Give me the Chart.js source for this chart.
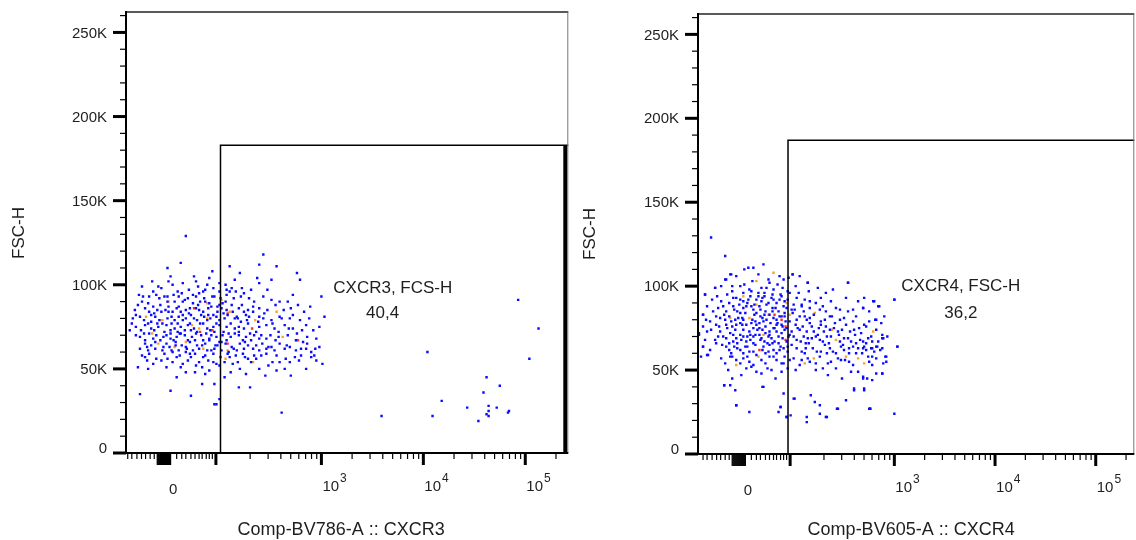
<!DOCTYPE html>
<html>
<head>
<meta charset="utf-8">
<script src="https://cdn.jsdelivr.net/npm/chart.js@4.4.1/dist/chart.umd.min.js"></script>
<style>
  html, body { margin: 0; padding: 0; background: #fff; }
  #wrap { position: relative; width: 1136px; height: 540px; overflow: hidden; }
  canvas { position: absolute; top: 0; }
  #cxcr3 { left: 0; }
  #cxcr4 { left: 570px; }
</style>
</head>
<body>
<div id="wrap">
  <canvas id="cxcr3" width="570" height="540"></canvas>
  <canvas id="cxcr4" width="566" height="540"></canvas>
</div>
<script>
// x values are in biexponential display units (decades: 3 = 10^3), y in thousands (FSC-H)
const yMajor = [0, 50, 100, 150, 200, 250];
const yLabels = ['0', '50K', '100K', '150K', '200K', '250K'];
const yMinor = [10, 20, 30, 40, 60, 70, 80, 90, 110, 120, 130, 140, 160, 170, 180, 190, 210, 220, 230, 240, 260];

const xDecades = [3, 4, 5];
const xDecadeLabels = ['3', '4', '5'];
const xZeroLabel = 1.545;
const xMajorExtra = [1.965];
const xLinearTicks = [1.10, 1.14, 1.19, 1.235, 1.275, 1.32, 1.36, 1.58, 1.63, 1.67, 1.72, 1.76, 1.80, 1.83, 1.87, 1.90, 1.93];
const xZeroBlock = [1.39, 1.40, 1.41, 1.42, 1.43, 1.44, 1.45, 1.46, 1.47, 1.48, 1.49, 1.50, 1.51, 1.52];
const xLogMinor = [200, 300, 400, 500, 600, 700, 800, 900, 2000, 3000, 4000, 5000, 6000, 7000, 8000, 9000,
  20000, 30000, 40000, 50000, 60000, 70000, 80000, 90000, 200000];

const cxcr3Blue = [[1.67,129],[1.62,113],[2.43,118],[2.56,111],[2.39,112],[2.10,111],[1.49,110],[1.93,108],[2.20,107],[2.76,107],
[2.79,103],[1.34,102],[1.52,105],[1.75,105],[1.90,104],[2.15,103],[2.37,104],[2.51,103],[1.77,102],[1.64,101],[1.50,102],[2.39,101],
[2.06,100],[1.35,96],[1.43,98],[1.59,96],[1.70,97],[1.80,95],[1.86,97],[1.94,98],[2.00,96],[2.10,96],[2.16,96],[2.24,95],[2.31,97],
[3.00,93],[1.25,93],[1.24,90],[1.41,92],[1.49,90],[1.56,90],[1.64,90],[1.74,89],[1.81,90],[1.90,89],[2.01,92],[2.03,89],[2.06,90],
[2.14,92],[2.34,90],[2.51,91],[2.59,90],[2.67,90],[2.89,87],[1.17,85],[1.27,86],[1.35,87],[1.43,84],[1.50,87],[1.58,86],[1.67,85],
[1.77,86],[1.84,84],[1.92,87],[2.07,85],[2.19,86],[2.28,85],[2.39,86],[2.63,85],[2.83,84],[3.03,81],[1.15,80],[1.22,81],[1.37,81],
[1.53,81],[1.60,81],[1.67,80],[1.72,82],[1.78,79],[1.85,81],[1.91,80],[1.97,81],[2.05,80],[2.15,80],[2.21,78],[2.29,81],[2.43,80],
[2.79,79],[1.12,73],[1.18,75],[1.27,76],[1.33,74],[1.40,75],[1.48,76],[1.56,74],[1.62,75],[1.69,76],[1.75,74],[1.88,74],[1.94,75],
[2.00,76],[2.07,75],[2.15,74],[2.24,74],[2.39,75],[2.54,74],[2.64,76],[2.92,73],[1.22,69],[1.31,71],[1.38,70],[1.45,69],[1.52,71],
[1.58,69],[1.66,70],[1.73,69],[1.82,70],[1.90,68],[1.97,69],[2.03,70],[2.11,69],[2.19,70],[2.26,69],[2.34,70],[2.46,68],[2.55,67],
[2.75,67],[2.86,69],[1.27,65],[1.33,64],[1.51,63],[1.57,64],[1.63,64],[1.71,66],[1.78,64],[1.86,65],[1.90,67],[1.98,64],[2.06,65],
[2.12,63],[2.20,65],[2.28,64],[2.33,62],[2.42,65],[2.51,63],[2.59,65],[2.69,63],[2.80,62],[2.98,63],[1.24,58],[1.31,59],[1.38,56],
[1.46,59],[1.53,61],[1.61,58],[1.67,60],[1.76,59],[1.84,57],[1.94,59],[2.01,57],[2.08,59],[2.16,58],[2.25,57],[2.34,58],[2.46,59],
[2.56,58],[2.65,56],[2.74,57],[2.90,57],[1.29,55],[1.43,55],[1.54,54],[1.69,55],[1.77,52],[1.89,55],[1.97,53],[2.05,54],[2.13,53],
[2.31,54],[2.39,50],[2.48,52],[2.59,54],[2.64,50],[2.70,46],[3.01,53],[1.20,51],[1.58,45],[1.67,48],[1.83,51],[2.00,52],[1.90,49],
[2.20,50],[2.45,46],[2.05,45],[1.22,35],[1.52,37],[1.72,34],[1.83,41],[1.95,41],[2.19,39],[2.30,39],[2.00,32],[1.95,29],[1.97,29],
[2.61,24],[2.86,65],[2.94,62],[2.90,60],[2.80,58],[2.95,55],
[1.24,99],[1.40,99],[1.54,100],[1.79,99],[1.88,100],[2.00,101],[2.12,98],[2.22,98],[2.47,97],
[1.21,94],[1.31,93],[1.38,94],[1.46,93],[1.60,93],[1.69,92],[1.77,93],[1.85,92],[1.95,93],[2.07,94],[2.21,93],[2.29,92],[2.43,93],[2.72,94],
[1.20,88],[1.31,84],[1.39,85],[1.47,85],[1.54,84],[1.62,84],[1.71,86],[1.80,85],[1.89,86],[1.98,84],[2.02,86],[2.13,84],[2.24,84],
[2.33,84],[2.47,85],[2.70,86],[2.77,88],
[1.18,82],[1.26,79],[1.33,82],[1.41,79],[1.49,80],[1.56,79],[1.64,82],[1.75,80],[1.82,82],[1.88,79],[1.94,82],[2.00,79],[2.08,82],
[2.18,80],[2.26,82],[2.39,81],[2.51,79],[2.59,81],[2.69,80],[2.88,80],
[1.14,77],[1.23,73],[1.30,77],[1.36,73],[1.44,77],[1.52,73],[1.59,77],[1.66,73],[1.71,77],[1.78,72],[1.84,77],[1.91,73],[1.97,77],
[2.04,72],[2.11,77],[2.19,72],[2.28,77],[2.36,72],[2.46,76],[2.58,72],[2.72,74],[2.85,76],[2.98,75],
[1.18,70],[1.27,67],[1.35,68],[1.42,67],[1.48,70],[1.55,67],[1.61,71],[1.69,67],[1.77,71],[1.84,67],[1.92,70],[2.00,66],[2.07,67],
[2.15,71],[2.23,67],[2.31,67],[2.39,68],[2.50,70],[2.67,70],[2.82,66],[2.95,68],
[1.22,62],[1.30,61],[1.37,62],[1.44,61],[1.48,65],[1.54,60],[1.60,61],[1.67,63],[1.74,61],[1.80,62],[1.88,61],[1.95,62],[2.02,61],
[2.09,60],[2.17,61],[2.24,62],[2.39,61],[2.46,62],[2.54,61],[2.64,62],[2.75,61],[2.85,62],
[1.27,57],[1.35,53],[1.49,56],[1.58,57],[1.64,53],[1.72,57],[1.80,54],[1.86,58],[1.94,54],[2.10,57],[2.18,54],[2.28,56],[2.36,56],
[2.52,54],[2.69,54],[2.78,55],[2.93,58],
[1.30,50],[1.48,51],[1.62,51],[1.76,48],[1.86,47],[2.11,48],[2.26,47],[2.56,49],[2.85,50],
[1.30,89],[1.36,83],[1.39,77],[1.42,88],[1.46,72],[1.50,84],[1.53,77],[1.55,94],[1.57,66],[1.60,87],[1.62,71],[1.64,79],[1.66,91],
[1.68,62],[1.70,83],[1.72,73],[1.74,94],[1.76,67],[1.79,88],[1.81,77],[1.83,64],[1.86,90],[1.87,71],[1.89,82],[1.92,61],[1.93,93],
[1.95,72],[1.98,87],[2.02,66],[2.04,83],[2.07,97],[2.09,71],[2.12,88],[2.14,62],[2.17,81],[2.19,75],[2.22,88],[2.25,66],[2.27,79],
[2.30,71],[2.33,87],[2.36,64],[2.38,78],[2.41,70],[2.44,83],[2.48,63],[2.52,77],[2.55,88],[2.58,69],[2.61,80],[2.66,64],[2.68,74],
[2.72,82],[2.76,71],[2.81,73],[1.26,71],[1.29,63],[1.33,78],[1.37,66],[1.45,63],[1.49,93],[1.52,68],[1.59,72],[1.63,95],[1.71,59],
[1.84,96],[1.96,64],[2.00,88],[2.23,59],[2.41,58],
[4.04,60],[4.93,91],[5.13,74],[5.04,56],[4.62,45],[4.75,40],[4.59,36],[4.18,31],[4.43,27],[4.64,28],[4.72,27],[4.64,25],[4.62,23],
[4.64,22],[4.84,25],[4.83,24],[4.54,19],[3.59,22],[4.09,22]];
const cxcr3Orange = [[1.50,90],[1.42,79],[1.34,71],[1.73,76],[1.80,74],[1.88,80],[2.02,91],[2.10,84],[2.06,56],[2.56,84],[2.62,69],
[2.35,79],[1.28,81],[1.44,79],[1.67,66],[1.56,63],[1.40,65],[1.84,62],[1.88,89],[2.08,61],[2.33,54]];
const cxcr3Red = [[1.75,86],[1.93,73],[2.32,74],[2.08,65],[2.77,67],[1.81,72],[2.08,83]];

const cxcr4Blue = [[1.18,129],[1.32,118],[1.37,107],[1.51,110],[1.60,111],[1.70,113],[1.55,111],[1.99,107],[1.90,104],[1.95,105],
[1.32,104],[1.22,99],[1.39,100],[1.51,101],[1.59,103],[1.68,99],[1.76,102],[1.84,101],[1.94,97],[2.14,102],[2.54,102],[1.39,97],
[1.50,96],[1.58,97],[1.65,94],[1.71,96],[1.79,95],[1.86,92],[1.96,96],[2.05,96],[2.15,97],[2.32,96],[1.12,95],[1.19,92],[1.28,91],
[1.40,93],[1.47,92],[1.54,90],[1.61,89],[1.68,91],[1.75,90],[1.83,90],[1.91,91],[2.00,89],[2.08,89],[2.16,91],[2.22,90],[2.29,88],
[2.46,86],[2.64,91],[2.80,91],[2.85,88],[3.00,92],[1.10,83],[1.20,85],[1.27,81],[1.36,82],[1.44,85],[1.50,87],[1.63,84],[1.69,81],
[1.76,83],[1.83,80],[1.91,82],[1.99,84],[2.06,82],[2.13,80],[2.20,83],[2.27,79],[2.36,82],[2.46,80],[2.54,85],[2.69,87],[1.17,79],
[1.23,77],[1.32,80],[1.39,76],[1.47,78],[1.53,77],[1.60,75],[1.66,78],[1.72,76],[1.80,75],[1.88,77],[1.93,75],[2.02,77],[2.09,76],
[2.16,78],[2.25,75],[2.32,76],[2.40,75],[2.48,74],[2.59,79],[2.65,75],[2.75,79],[1.06,71],[1.14,73],[1.22,68],[1.30,70],[1.37,72],
[1.43,69],[1.50,70],[1.57,68],[1.62,71],[1.68,69],[1.75,70],[1.81,67],[1.89,69],[1.96,71],[2.03,68],[2.10,70],[2.18,69],[2.26,68],
[2.33,70],[2.50,69],[2.57,67],[2.66,68],[2.74,69],[2.88,69],[1.10,64],[1.15,59],[1.29,65],[1.36,62],[1.41,64],[1.47,62],[1.54,64],
[1.60,61],[1.72,60],[1.80,62],[1.87,64],[1.94,61],[2.03,63],[2.11,60],[2.19,63],[2.27,61],[2.36,63],[2.42,60],[2.50,62],[2.59,64],
[2.68,60],[2.77,63],[2.83,64],[2.92,58],[3.03,64],[1.28,57],[1.37,58],[1.43,56],[1.50,57],[1.56,55],[1.72,54],[1.80,58],[1.88,54],
[1.96,56],[2.06,53],[2.14,57],[2.22,54],[2.29,51],[2.37,55],[2.44,57],[2.51,56],[2.59,53],[2.78,58],[2.88,48],[1.53,51],[1.63,49],
[1.74,51],[1.82,45],[1.90,54],[1.94,51],[2.34,47],[2.42,51],[2.57,49],[2.60,38],[2.69,46],[2.78,44],[1.31,41],[1.37,41],[1.42,38],
[1.69,40],[1.90,36],[2.01,33],[2.17,35],[2.21,31],[1.43,29],[1.56,25],[1.85,25],[1.87,28],[1.97,23],[2.13,22],[2.26,24],[2.32,22],
[2.44,27],[2.52,32],[2.75,27],[3.00,24],[1.93,22],
[1.06,72],[1.10,64],[1.08,58],[1.14,59],[1.12,95],[1.10,83],[1.22,99],[1.31,41],[1.39,45],[1.43,29],[1.70,40],[1.87,28],[1.93,22],
[2.00,33],[2.13,19],[2.26,29],[2.33,22],[2.43,27],[2.60,39],[2.70,39],[2.69,45],[2.76,27],[2.88,48],[3.03,64],[3.00,92],[2.54,102],
[2.14,102],[1.99,107],[1.38,107],[1.33,104],
[2.79,91],[2.84,88],[2.69,87],[2.81,80],[2.72,76],[2.88,71],[2.89,69],[2.82,64],[2.78,63],[2.69,63],[2.86,62],[2.74,58],[2.91,58],
[2.78,53],[2.89,54],[2.73,45],[2.70,38],[2.76,27],
[1.43,106],[1.65,107],[1.75,104],[1.86,106],[2.06,106],
[1.28,100],[1.47,100],[1.56,98],[1.73,99],[1.80,98],[1.89,99],[2.02,100],[2.24,99],[2.39,98],
[1.24,94],[1.34,95],[1.43,93],[1.50,91],[1.57,94],[1.63,92],[1.71,94],[1.80,92],[1.88,94],[1.94,92],[2.03,93],[2.11,92],[2.27,93],
[2.37,91],[2.52,93],[2.70,93],
[1.14,88],[1.25,87],[1.33,85],[1.40,88],[1.47,84],[1.53,88],[1.60,86],[1.66,88],[1.72,85],[1.79,87],[1.85,85],[1.93,87],[2.01,86],
[2.10,85],[2.16,87],[2.26,86],[2.32,85],[2.42,87],[2.59,86],[2.75,85],
[1.13,80],[1.23,82],[1.31,83],[1.42,80],[1.49,81],[1.59,80],[1.67,82],[1.73,80],[1.80,81],[1.88,82],[1.96,79],[2.03,80],[2.11,82],
[2.16,81],[2.31,80],[2.38,82],[2.50,81],[2.62,82],[2.82,80],[2.90,82],
[1.10,76],[1.18,74],[1.27,73],[1.34,75],[1.43,77],[1.50,74],[1.56,73],[1.63,77],[1.69,74],[1.76,73],[1.83,77],[1.91,74],[1.98,73],
[2.06,74],[2.13,73],[2.20,73],[2.27,77],[2.36,74],[2.44,73],[2.52,77],[2.60,74],[2.70,77],[2.82,74],[2.87,78],
[1.12,68],[1.25,70],[1.33,69],[1.40,67],[1.47,71],[1.53,67],[1.60,70],[1.66,71],[1.71,67],[1.78,69],[1.85,70],[1.93,67],[2.00,70],
[2.07,67],[2.14,69],[2.22,70],[2.29,67],[2.37,70],[2.46,67],[2.54,69],[2.61,71],[2.69,67],[2.77,70],[2.84,67],[2.93,70],
[1.17,62],[1.23,66],[1.33,64],[1.38,60],[1.44,66],[1.50,60],[1.56,61],[1.62,65],[1.69,62],[1.76,65],[1.83,60],[1.90,63],[1.98,65],
[2.08,61],[2.15,66],[2.23,61],[2.31,65],[2.39,61],[2.47,64],[2.55,60],[2.64,63],[2.72,62],[2.80,61],[2.88,63],
[1.32,54],[1.39,58],[1.47,54],[1.54,58],[1.60,53],[1.68,56],[1.76,58],[1.83,56],[1.91,58],[2.00,57],[2.08,56],[2.16,55],[2.26,58],
[2.34,54],[2.47,56],[2.55,55],[2.75,55],[2.82,57],[2.92,55],
[1.35,50],[1.48,47],[1.58,52],[1.68,48],[1.78,50],[1.88,49],[2.02,50],[2.22,50],[2.48,45],[2.64,49],[2.82,48],
[1.36,90],[1.41,86],[1.45,81],[1.49,77],[1.52,84],[1.55,92],[1.58,78],[1.61,83],[1.64,74],[1.65,96],[1.67,86],[1.70,79],[1.73,89],
[1.74,66],[1.77,78],[1.78,93],[1.81,75],[1.82,87],[1.85,66],[1.86,82],[1.88,72],[1.90,88],[1.92,79],[1.95,70],[1.40,71],[1.44,63],
[1.48,68],[1.52,64],[1.57,71],[1.60,66],[1.63,59],[1.66,75],[1.70,64],[1.72,72],[1.75,61],[1.79,66],[1.83,73],[1.86,62],[1.89,76],
[1.38,79],[1.42,74],[1.46,89],[1.50,80],[1.54,70],[1.58,88],[1.62,79],[1.67,68],[1.69,93],[1.71,83],[1.76,71],[1.79,85],[1.84,78],
[1.87,95],[1.91,84],[1.94,64],[1.33,77],[1.30,88],[1.26,76],[1.36,66],[1.98,86],[2.04,75],[2.08,88],[2.12,66],[2.18,76],[2.24,71],
[2.30,73],[2.35,66],[2.41,78],[2.45,71],[2.49,65],[2.56,73],[2.62,66],[2.67,72],[2.72,66],[2.78,67],[2.55,63],[2.62,60],[2.70,64],
[2.33,60],[2.12,63]];
const cxcr4Orange = [[1.80,108],[1.63,103],[1.93,90],[2.21,84],[1.56,81],[1.75,83],[2.38,74],[2.79,73],[2.11,54],[2.20,57],[2.52,58],
[1.43,53],[1.37,81],[1.65,58],[1.96,83],[1.50,94],[2.42,68],[2.64,57],[2.70,54],[1.63,89],[1.70,71]];
const cxcr4Red = [[1.88,80],[1.66,62],[1.92,68],[1.81,83],[1.92,76]];

const BLUE = '#0a0aff';
const ORANGE = '#ffa020';
const RED = '#ff3020';
const FONT = "'Liberation Sans', Arial, sans-serif";

const toXY = pts => pts.map(p => ({ x: p[0], y: p[1] }));

const flowAxes = {
  id: 'flowAxes',
  afterDatasetsDraw(chart, args, o) {
    const { ctx, chartArea: a, scales: { x, y } } = chart;
    ctx.save();

    // gate
    const gx = x.getPixelForValue(o.gateX);
    const gy = y.getPixelForValue(o.gateTop);
    ctx.strokeStyle = '#000';
    ctx.lineWidth = 1.5;
    ctx.beginPath();
    ctx.moveTo(gx, a.bottom);
    ctx.lineTo(gx, gy);
    ctx.lineTo(a.right, gy);
    ctx.stroke();
    if (o.gateEdge > 1) {
      ctx.lineWidth = o.gateEdge;
      ctx.beginPath();
      ctx.moveTo(a.right - o.gateEdge / 2 - 1, gy);
      ctx.lineTo(a.right - o.gateEdge / 2 - 1, a.bottom);
      ctx.stroke();
    }

    // gate label
    ctx.fillStyle = '#1e1e1e';
    ctx.font = '17px ' + FONT;
    ctx.textAlign = 'center';
    ctx.textBaseline = 'middle';
    ctx.fillText(o.gateName, x.getPixelForValue(o.nameAt[0]), y.getPixelForValue(o.nameAt[1]));
    ctx.fillText(o.gatePct, x.getPixelForValue(o.pctAt[0]), y.getPixelForValue(o.pctAt[1]));

    // frame
    ctx.strokeStyle = '#222';
    ctx.lineWidth = 1.5;
    ctx.beginPath();
    ctx.moveTo(a.left, a.top);
    ctx.lineTo(a.right, a.top);
    ctx.stroke();
    ctx.strokeStyle = '#777';
    ctx.lineWidth = 1;
    ctx.beginPath();
    ctx.moveTo(a.right - 0.5, a.top);
    ctx.lineTo(a.right - 0.5, a.bottom);
    ctx.stroke();

    ctx.strokeStyle = '#000';
    ctx.lineWidth = 2;
    ctx.beginPath();
    ctx.moveTo(a.left, a.top - 1);
    ctx.lineTo(a.left, a.bottom + 1);
    ctx.moveTo(a.left - 1, a.bottom);
    ctx.lineTo(a.right, a.bottom);
    ctx.stroke();

    // y ticks
    const tick = (x0, y0, x1, y1, w) => {
      ctx.lineWidth = w;
      ctx.beginPath();
      ctx.moveTo(x0, y0);
      ctx.lineTo(x1, y1);
      ctx.stroke();
    };
    yMinor.forEach(v => { const p = y.getPixelForValue(v); tick(a.left - 6, p, a.left, p, 1.2); });
    yMajor.forEach(v => { const p = y.getPixelForValue(v); tick(a.left - 13, p, a.left, p, 3); });

    ctx.font = '15px ' + FONT;
    ctx.textAlign = 'right';
    ctx.textBaseline = 'middle';
    yMajor.forEach((v, i) => {
      const p = y.getPixelForValue(v) - (v === 0 ? 5 : 0);
      ctx.fillText(yLabels[i], a.left - 19, p + 1);
    });

    // x ticks
    const b = a.bottom;
    xLinearTicks.forEach(v => { const p = x.getPixelForValue(v); tick(p, b, p, b + 6, 1.2); });
    xLogMinor.forEach(v => { const p = x.getPixelForValue(Math.log10(v)); tick(p, b, p, b + 6, 1.2); });
    xZeroBlock.forEach(v => { const p = x.getPixelForValue(v); tick(p, b, p, b + 12, 1.3); });
    xMajorExtra.concat(xDecades).forEach(v => { const p = x.getPixelForValue(v); tick(p, b, p, b + 12, 3); });

    ctx.textAlign = 'center';
    ctx.textBaseline = 'alphabetic';
    ctx.font = '15px ' + FONT;
    ctx.fillText('0', x.getPixelForValue(xZeroLabel), b + 41);
    xDecades.forEach((v, i) => {
      const p = x.getPixelForValue(v);
      ctx.textAlign = 'left';
      ctx.font = '15px ' + FONT;
      ctx.fillText('10', p + 1, b + 38);
      const w = ctx.measureText('10').width;
      ctx.font = '12px ' + FONT;
      ctx.fillText(xDecadeLabels[i], p + 2 + w, b + 29);
    });

    // axis titles
    ctx.font = '18px ' + FONT;
    ctx.textAlign = 'center';
    ctx.textBaseline = 'middle';
    ctx.fillText(o.xTitle, (a.left + a.right) / 2 + o.xTitleShift, 530);
    ctx.font = '17px ' + FONT;
    ctx.save();
    ctx.translate(o.yTitleX, o.yTitleY);
    ctx.rotate(-Math.PI / 2);
    ctx.fillText('FSC-H', 0, 0);
    ctx.restore();

    ctx.restore();
  }
};

function makePlot(id, blue, orange, red, cfg) {
  const ds = (pts, color) => ({
    data: toXY(pts),
    backgroundColor: color,
    borderWidth: 0,
    pointStyle: 'rect',
    pointRadius: 1.7,
    pointHoverRadius: 1.7
  });
  return new Chart(document.getElementById(id), {
    type: 'scatter',
    data: { datasets: [ds(blue, BLUE), ds(orange, ORANGE), ds(red, RED)] },
    options: {
      responsive: false,
      animation: false,
      events: [],
      layout: { padding: cfg.pad },
      scales: {
        x: { type: 'linear', display: false, min: cfg.xMin, max: cfg.xMax },
        y: { type: 'linear', display: false, min: 0, max: 262.144 }
      },
      plugins: {
        legend: { display: false },
        tooltip: { enabled: false },
        flowAxes: cfg
      }
    },
    plugins: [flowAxes]
  });
}

makePlot('cxcr3', cxcr3Blue, cxcr3Orange, cxcr3Red, {
  pad: { left: 126, right: 1, top: 12, bottom: 87 },
  xMin: 1.083, xMax: 5.422,
  gateX: 2.01, gateTop: 183, gateEdge: 4,
  gateName: 'CXCR3, FCS-H', gatePct: '40,4',
  nameAt: [3.70, 98], pctAt: [3.60, 83],
  xTitle: 'Comp-BV786-A :: CXCR3', xTitleShift: -6,
  yTitleX: 19.5, yTitleY: 233
});

makePlot('cxcr4', cxcr4Blue, cxcr4Orange, cxcr4Red, {
  pad: { left: 128, right: 1, top: 14, bottom: 86 },
  xMin: 1.05, xMax: 5.383,
  gateX: 1.944, gateTop: 187, gateEdge: 1,
  gateName: 'CXCR4, FSC-H', gatePct: '36,2',
  nameAt: [3.66, 100], pctAt: [3.66, 84],
  xTitle: 'Comp-BV605-A :: CXCR4', xTitleShift: -5,
  yTitleX: 20, yTitleY: 234
});
</script>
</body>
</html>
